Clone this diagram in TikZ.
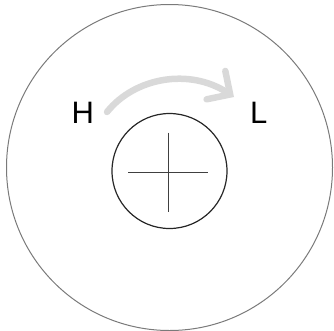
\documentclass[tikz,border=0pt]{standalone}
\usepackage{fontspec}
\setmainfont{Liberation Sans}
\usetikzlibrary{arrows.meta}
\definecolor{arrowgray}{HTML}{D9D9D9}
\definecolor{ringgray}{HTML}{7A7A7A}
\tikzset{
  outerring/.style={draw=ringgray, line width=1pt},
  innerring/.style={draw=black!85, line width=1.2pt},
  crossline/.style={draw=black!75, line width=1pt},
  letter/.style={font=\fontsize{31}{31}\selectfont, inner sep=0pt},
  flowarrow/.style={draw=arrowgray, line width=6.5pt, line cap=round,
    -{Straight Barb[length=17pt, width=34pt, line cap=round]}}
}
\begin{document}
\begin{tikzpicture}[x=1pt, y=-1pt]
  \useasboundingbox (0,0) rectangle (334,330);
  \path[outerring] (169.5,167.5) circle[radius=163];
  \path[innerring] (169.5,171) circle[radius=57.5];
  \draw[crossline] (128,172.3) -- (208,172.3);
  \draw[crossline] (168.3,132.7) -- (168.3,212);
  \node[letter] (H) at (82.7,113.3) {H};
  \node[letter] (L) at (258.7,113.3) {L};
  \coordinate (a1) at (107,112);
  \coordinate (a2) at (234,97);
  \draw[flowarrow] (a1) .. controls (135,77) and (190,68) .. (a2);
\end{tikzpicture}
\end{document}
